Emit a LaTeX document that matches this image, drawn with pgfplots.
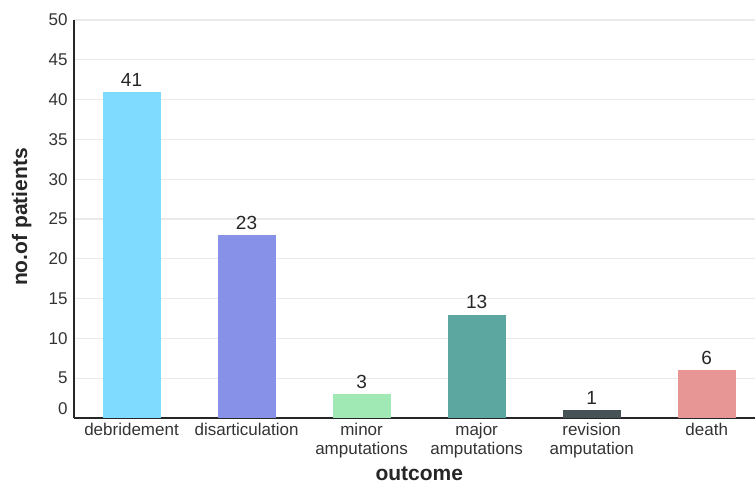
\documentclass[border=0pt]{standalone}
\usepackage{fontspec}
\setmainfont{Liberation Sans}
\usepackage{pgfplots}
\pgfplotsset{compat=1.18}
\definecolor{cA}{HTML}{7FDBFF}
\definecolor{cB}{HTML}{8791E8}
\definecolor{cC}{HTML}{A0E9B4}
\definecolor{cD}{HTML}{5CA8A0}
\definecolor{cE}{HTML}{465256}
\definecolor{cF}{HTML}{E89595}
\definecolor{tickc}{HTML}{333333}
\definecolor{gridc}{HTML}{EAEAEA}
\begin{document}
\begin{tikzpicture}
\useasboundingbox (0,0) rectangle (755pt,484pt);
\begin{axis}[
  at={(74pt,66pt)}, anchor=south west,
  scale only axis, width=681pt, height=398pt,
  xmin=-0.5, xmax=5.42, ymin=0, ymax=50,
  axis x line*=bottom, axis y line*=left,
  axis line style={-, line width=2.5pt, color=black!85},
  major tick length=0pt,
  ytick={5,10,...,50},
  extra y ticks={0},
  extra y tick style={yticklabel style={yshift=9pt}, ymajorgrids=false},
  ymajorgrids, grid style={color=gridc, line width=1.2pt},
  yticklabel style={font=\fontsize{17}{20}\selectfont, color=tickc, xshift=-3pt},
  xtick={0,1,2,3,4,5},
  xticklabels={debridement, disarticulation, {minor\\amputations}, {major\\amputations}, {revision\\amputation}, death},
  xticklabel style={align=center, font=\fontsize{17}{19.5}\selectfont, color=tickc, yshift=-1.5pt},
  /pgf/number format/assume math mode=true,
  xlabel={outcome}, ylabel={no.of patients},
  xlabel style={at={(axis description cs:0.507,0)}, anchor=base, yshift=-63pt, font=\fontsize{21}{24}\selectfont\bfseries, color=black!85},
  ylabel style={at={(axis description cs:-0.069,0.505)}, anchor=base, font=\fontsize{21}{24}\selectfont\bfseries, color=black!85},
  ybar, bar width=58pt, bar shift=0pt,
  nodes near coords,
  nodes near coords style={font=\fontsize{19}{22}\selectfont, color=black!85, yshift=2pt},
  clip=false,
]
\addplot[fill=cA, draw=none] coordinates {(0,41)};
\addplot[fill=cB, draw=none] coordinates {(1,23)};
\addplot[fill=cC, draw=none] coordinates {(2,3)};
\addplot[fill=cD, draw=none] coordinates {(3,13)};
\addplot[fill=cE, draw=none] coordinates {(4,1)};
\addplot[fill=cF, draw=none] coordinates {(5,6)};
\end{axis}
\end{tikzpicture}
\end{document}
